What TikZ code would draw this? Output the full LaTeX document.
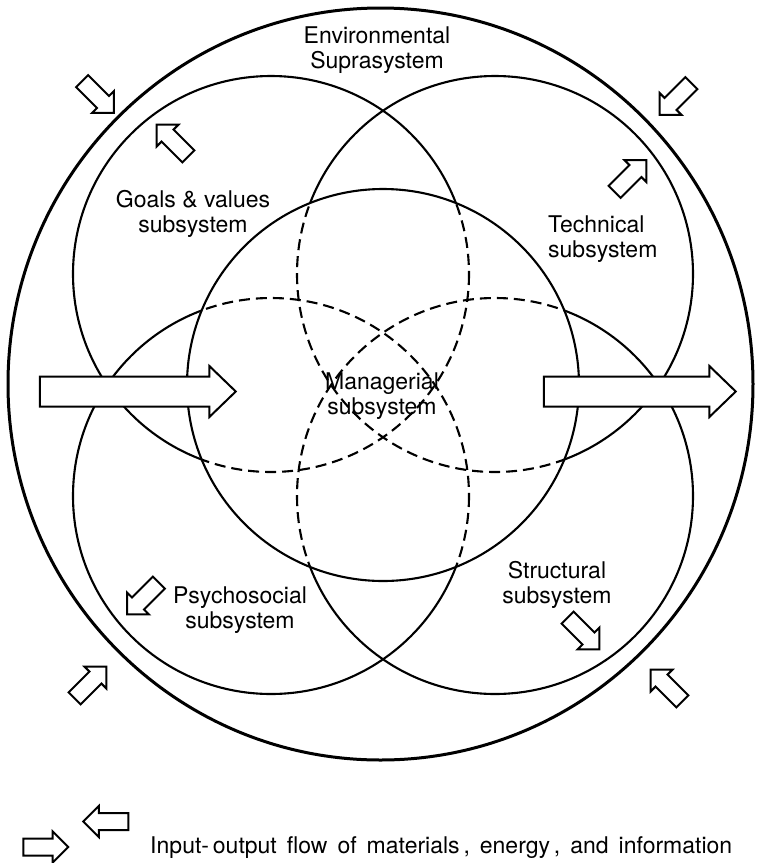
\documentclass[tikz,border=0pt]{standalone}
\usepackage{fontspec}
\setmainfont{TeX Gyre Heros}
\usetikzlibrary{shapes.arrows}

\begin{document}
\begin{tikzpicture}[
  x=1pt, y=-1pt,
  ring/.style={draw=black, line width=2.1pt},
  hidden/.style={draw=black, line width=2.1pt, dash pattern=on 11pt off 6pt},
  flow/.style={
    single arrow, draw=black, fill=white, line width=2pt,
    minimum height=45pt, inner sep=7.5pt,
    single arrow head extend=7pt, single arrow tip angle=90
  },
  bigflow/.style={
    flow, inner sep=14pt,
    single arrow head extend=10.5pt, single arrow tip angle=88
  },
  subtxt/.style={
    font=\fontsize{23}{25}\selectfont, align=center, inner sep=0pt
  }
]
\useasboundingbox (0,0) rectangle (783,863);

% Centres of the subsystems
\coordinate (env) at (380.5,384);
\coordinate (mgr) at (383,385);
\coordinate (goals) at (271,274);
\coordinate (tech) at (495,274);
\coordinate (psych) at (271,496);
\coordinate (struct) at (495,496);

% Environmental suprasystem
\draw[ring, line width=3pt] (env) circle[x radius=372.5, y radius=376];

% Four subsystems, solid outside the managerial one
\foreach \c in {goals,tech,psych,struct}
  \draw[ring] (\c) circle[radius=198];
\fill[white] (mgr) circle[radius=196];

% Dashed parts inside the managerial subsystem
\begin{scope}
  \clip (mgr) circle[radius=196];
  \foreach \c in {goals,tech,psych,struct}
    \draw[hidden] (\c) circle[radius=198];
\end{scope}
\draw[ring] (mgr) circle[radius=196];

% Labels
\node[subtxt] (envtxt) at (377,50) {Environmental\\Suprasystem};
\node[subtxt] (goalstxt) at (193,214) {Goals \& values\\subsystem};
\node[subtxt, align=left, anchor=west] (techtxt) at (548,239) {Technical\\subsystem};
\node[subtxt] (mgrtxt) at (382,396) {Managerial\\subsystem};
\node[subtxt] (psychtxt) at (240,610) {Psychosocial\\subsystem};
\node[subtxt] (structtxt) at (557,585) {Structural\\subsystem};

% Main input and output flows
\node[bigflow, minimum height=196pt] (input) at (130,391.5) {};
\node[bigflow, minimum height=192pt] (output) at (632,391.5) {};

% Small flows across the boundaries
\node[flow, rotate=-45] (inTL) at (95,94) {};
\node[flow, rotate=135] (outTL) at (175.5,143.5) {};
\node[flow, rotate=-135] (inTR) at (678.5,96) {};
\node[flow, rotate=45] (outTR) at (627.5,179) {};
\node[flow, rotate=-135] (outBL) at (146,595.5) {};
\node[flow, rotate=45] (inBL) at (87.5,685.5) {};
\node[flow, rotate=-45] (outBR) at (580.5,630.5) {};
\node[flow, rotate=135] (inBR) at (669.5,688.5) {};

% Legend
\node[flow, rotate=180] (keyleft) at (110,821.5) {};
\node[flow] (keyright) at (41.5,847) {};
\node[subtxt, anchor=base west] (keytxt) at (150,853)
  {\spaceskip=10pt Input-\,output flow of materials\,, energy\,, and information};

\end{tikzpicture}
\end{document}
